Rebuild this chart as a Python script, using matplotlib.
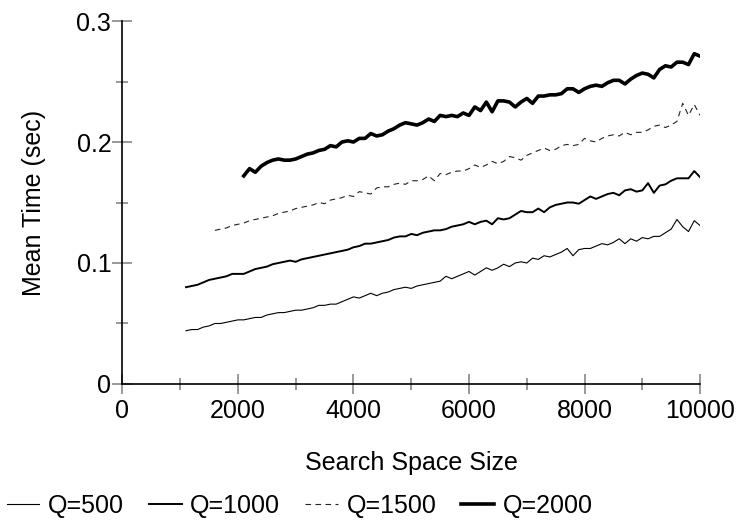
import matplotlib
matplotlib.use("Agg")
import matplotlib.pyplot as plt
from matplotlib.ticker import MultipleLocator, FuncFormatter

plt.rcParams["font.family"] = ["Liberation Sans", "DejaVu Sans"]

# x: search space size, step 100
x_500 = list(range(1100, 10001, 100))
x_1000 = list(range(1100, 10001, 100))
x_1500 = list(range(1600, 10001, 100))
x_2000 = list(range(2100, 10001, 100))

q500 = [
    0.044, 0.045, 0.045, 0.047, 0.048, 0.050, 0.050, 0.051, 0.052, 0.053,
    0.053, 0.054, 0.055, 0.055, 0.057, 0.058, 0.059, 0.059, 0.060, 0.061,
    0.061, 0.062, 0.063, 0.065, 0.065, 0.066, 0.066, 0.068, 0.070, 0.072,
    0.071, 0.073, 0.075, 0.073, 0.075, 0.076, 0.078, 0.079, 0.080, 0.079,
    0.081, 0.082, 0.083, 0.084, 0.085, 0.089, 0.087, 0.089, 0.091, 0.093,
    0.090, 0.093, 0.096, 0.094, 0.096, 0.099, 0.097, 0.100, 0.101, 0.100,
    0.104, 0.103, 0.106, 0.105, 0.107, 0.109, 0.112, 0.106, 0.111, 0.112,
    0.112, 0.114, 0.116, 0.115, 0.117, 0.120, 0.116, 0.120, 0.118, 0.121,
    0.120, 0.122, 0.122, 0.125, 0.128, 0.136, 0.130, 0.126, 0.135, 0.131,
]
q1000 = [
    0.080, 0.081, 0.082, 0.084, 0.086, 0.087, 0.088, 0.089, 0.091, 0.091,
    0.091, 0.093, 0.095, 0.096, 0.097, 0.099, 0.100, 0.101, 0.102, 0.101,
    0.103, 0.104, 0.105, 0.106, 0.107, 0.108, 0.109, 0.110, 0.111, 0.113,
    0.114, 0.116, 0.116, 0.117, 0.118, 0.119, 0.121, 0.122, 0.122, 0.124,
    0.123, 0.125, 0.126, 0.127, 0.127, 0.128, 0.130, 0.131, 0.132, 0.134,
    0.132, 0.134, 0.135, 0.132, 0.137, 0.136, 0.137, 0.140, 0.143, 0.142,
    0.142, 0.145, 0.142, 0.146, 0.148, 0.149, 0.150, 0.150, 0.149, 0.152,
    0.155, 0.153, 0.155, 0.157, 0.158, 0.156, 0.160, 0.161, 0.159, 0.160,
    0.166, 0.158, 0.164, 0.165, 0.168, 0.170, 0.170, 0.170, 0.176, 0.171,
]
q1500 = [
    0.127, 0.128, 0.129, 0.131, 0.132,
    0.133, 0.135, 0.136, 0.137, 0.138, 0.139, 0.141, 0.142, 0.143, 0.145,
    0.146, 0.147, 0.148, 0.150, 0.149, 0.152, 0.153, 0.154, 0.156, 0.155,
    0.159, 0.158, 0.157, 0.162, 0.163, 0.163, 0.165, 0.166, 0.165, 0.168,
    0.168, 0.169, 0.172, 0.168, 0.174, 0.173, 0.175, 0.176, 0.176, 0.178,
    0.181, 0.179, 0.181, 0.184, 0.182, 0.184, 0.188, 0.187, 0.185, 0.189,
    0.191, 0.193, 0.195, 0.193, 0.194, 0.197, 0.198, 0.197, 0.198, 0.203,
    0.201, 0.200, 0.203, 0.205, 0.206, 0.205, 0.208, 0.206, 0.208, 0.208,
    0.210, 0.213, 0.214, 0.212, 0.214, 0.217, 0.232, 0.222, 0.231, 0.222,
]
q2000 = [
    0.172, 0.178, 0.175, 0.180, 0.183, 0.185, 0.186, 0.185, 0.185, 0.186,
    0.188, 0.190, 0.191, 0.193, 0.194, 0.197, 0.196, 0.200, 0.201, 0.200,
    0.203, 0.203, 0.207, 0.205, 0.206, 0.209, 0.211, 0.214, 0.216, 0.215,
    0.214, 0.216, 0.219, 0.217, 0.222, 0.221, 0.222, 0.221, 0.224, 0.222,
    0.229, 0.226, 0.233, 0.225, 0.234, 0.234, 0.233, 0.229, 0.233, 0.236,
    0.232, 0.238, 0.238, 0.239, 0.239, 0.240, 0.244, 0.244, 0.241, 0.244,
    0.246, 0.247, 0.246, 0.249, 0.251, 0.251, 0.248, 0.252, 0.255, 0.257,
    0.256, 0.253, 0.260, 0.263, 0.262, 0.266, 0.266, 0.264, 0.273, 0.271,
]

fig = plt.figure(figsize=(7.4, 5.26), dpi=100)
ax = fig.add_axes([0.1655, 0.270, 0.7805, 0.690])

ax.plot(x_500, q500, color="black", lw=0.8, label="Q=500")
ax.plot(x_1000, q1000, color="black", lw=1.4, label="Q=1000")
ax.plot(x_1500, q1500, color="#222222", lw=0.8, dashes=(5, 4), label="Q=1500")
ax.plot(x_2000, q2000, color="black", lw=2.6, label="Q=2000")

ax.set_xlim(0, 10000)
ax.set_ylim(0, 0.3)
ax.xaxis.set_major_locator(MultipleLocator(2000))
ax.xaxis.set_minor_locator(MultipleLocator(1000))
ax.yaxis.set_major_locator(MultipleLocator(0.1))
ax.yaxis.set_minor_locator(MultipleLocator(0.05))
ax.yaxis.set_major_formatter(FuncFormatter(lambda v, p: "%g" % round(v, 2)))

for s in ["top", "right"]:
    ax.spines[s].set_visible(False)
for s in ["left", "bottom"]:
    ax.spines[s].set_linewidth(1.2)

ax.tick_params(which="major", direction="inout", length=14, width=1.2,
               color="#888888", labelsize=18)
ax.tick_params(axis="y", which="major", pad=1)
ax.tick_params(axis="x", which="major", pad=4)
ax.tick_params(which="minor", direction="inout", length=9, width=1.2,
               color="#888888")

ax.set_xlabel("Search Space Size", fontsize=18, labelpad=20)
ax.set_ylabel("Mean Time (sec)", fontsize=18, labelpad=22)

fig.legend(loc="lower center", bbox_to_anchor=(0.405, -0.028), ncol=4,
           frameon=False, fontsize=18, handlelength=1.3, handletextpad=0.35,
           columnspacing=1.0)

plt.savefig("out.png", dpi=100)
plt.close()
